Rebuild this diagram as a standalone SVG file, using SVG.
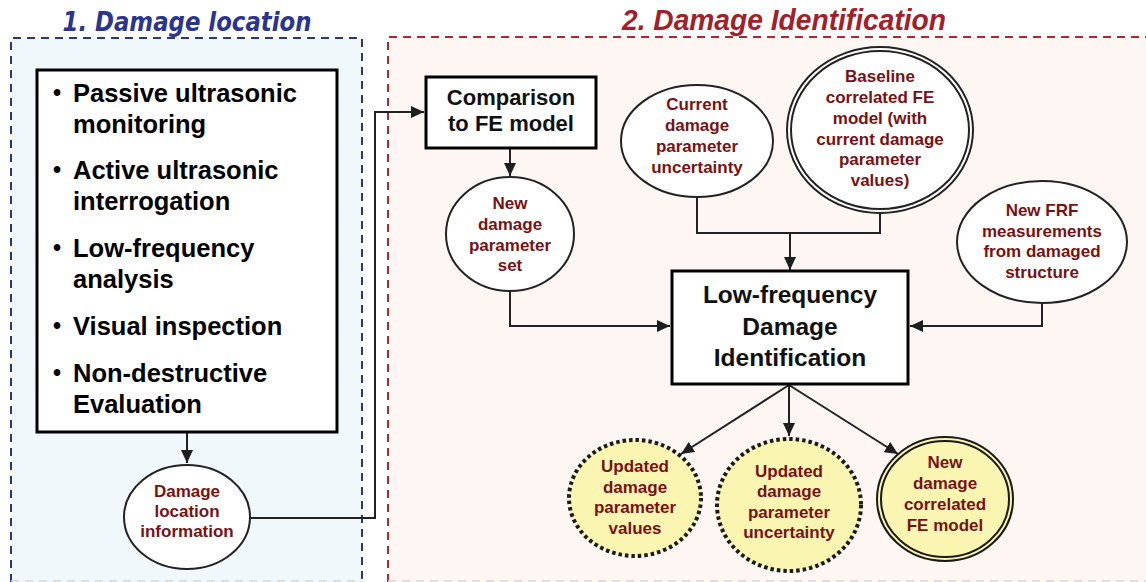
<svg xmlns="http://www.w3.org/2000/svg" width="1146" height="582" viewBox="0 0 1146 582">
<defs>
<marker id="ah" markerUnits="userSpaceOnUse" markerWidth="14" markerHeight="12" refX="13" refY="6" orient="auto">
<path d="M0,0 L13,6 L0,12 z" fill="#1e1e1e"/>
</marker>
<style>
.title1{font-family:"DejaVu Sans",Verdana,sans-serif;font-weight:bold;font-style:italic;font-size:26px;fill:#2b3590}
.title2{font-family:"Liberation Sans",Arial,sans-serif;font-weight:bold;font-style:italic;font-size:30px;fill:#a3202a}
.list{font-family:"Liberation Sans",Arial,sans-serif;font-weight:bold;font-size:25.5px;fill:#000}
.bul{font-family:"Liberation Sans",Arial,sans-serif;font-weight:bold;font-size:23px;fill:#000}
.box{fill:#fff;stroke:#000;stroke-width:3}
.btxt{font-family:"Liberation Sans",Arial,sans-serif;font-weight:bold;fill:#111;text-anchor:middle}
.ell{fill:#fff;stroke:#222;stroke-width:2}
.ely{fill:#fbf5b2;stroke:#1a1a1a;stroke-width:2}
.dot{fill:#fbf5b2;stroke:#1a1a1a;stroke-width:4;stroke-dasharray:3.5 3}
.etxt{font-family:"Liberation Sans",Arial,sans-serif;font-weight:bold;font-size:17px;fill:#7a1214;text-anchor:middle}
.con{fill:none;stroke:#222;stroke-width:2}
</style>
</defs>

<g id="panel-location">
<rect x="11" y="38" width="351" height="550" fill="#f0f8fb"/>
<path d="M11,582 V38 H362 V582" fill="none" stroke="#2b3590" stroke-width="2" stroke-dasharray="8 6"/>
<line x1="11" y1="581" x2="362" y2="581" stroke="#d6d6d6" stroke-width="1.5" stroke-dasharray="8 6"/>
<text class="title1" x="187" y="31" text-anchor="middle" textLength="249" lengthAdjust="spacingAndGlyphs">1. Damage location</text>
</g>

<g id="panel-identification">
<rect x="388" y="37" width="770" height="550" fill="#fdf6f3"/>
<path d="M388,582 V37 H1150" fill="none" stroke="#b0282e" stroke-width="2" stroke-dasharray="8 6"/>
<line x1="388" y1="581" x2="1146" y2="581" stroke="#d6d6d6" stroke-width="1.5" stroke-dasharray="8 6"/>
<text class="title2" x="784" y="30" text-anchor="middle" textLength="324" lengthAdjust="spacingAndGlyphs">2. Damage Identification</text>
</g>

<g id="connectors">
<path class="con" d="M187,432 V463" marker-end="url(#ah)"/>
<path class="con" d="M250,518 H375 V112 H424" marker-end="url(#ah)"/>
<path class="con" d="M510,148 V176" marker-end="url(#ah)"/>
<path class="con" d="M510,292 V326 H670" marker-end="url(#ah)"/>
<path class="con" d="M697,197 V233 H880 V213"/>
<path class="con" d="M790,233 V270" marker-end="url(#ah)"/>
<path class="con" d="M1042,303 V326 H910" marker-end="url(#ah)"/>
<path class="con" d="M789,385 L681,454" marker-end="url(#ah)"/>
<path class="con" d="M789,385 V436" marker-end="url(#ah)"/>
<path class="con" d="M789,385 L898,454" marker-end="url(#ah)"/>
</g>

<g id="methods-list">
<rect class="box" x="37" y="70" width="300" height="362"/>
<text class="bul" x="53" y="101">•</text>
<text class="list" x="73" y="102">Passive ultrasonic</text>
<text class="list" x="73" y="133">monitoring</text>
<text class="bul" x="53" y="178">•</text>
<text class="list" x="73" y="179">Active ultrasonic</text>
<text class="list" x="73" y="210">interrogation</text>
<text class="bul" x="53" y="256">•</text>
<text class="list" x="73" y="257">Low-frequency</text>
<text class="list" x="73" y="288">analysis</text>
<text class="bul" x="53" y="334">•</text>
<text class="list" x="73" y="335">Visual inspection</text>
<text class="bul" x="53" y="381">•</text>
<text class="list" x="73" y="382">Non-destructive</text>
<text class="list" x="73" y="413">Evaluation</text>
</g>

<g id="damage-location-info">
<ellipse class="ell" cx="187" cy="517" rx="63" ry="52"/>
<text class="etxt" x="187" y="497">Damage</text>
<text class="etxt" x="187" y="517">location</text>
<text class="etxt" x="187" y="537">information</text>
</g>

<g id="comparison">
<rect class="box" x="426" y="77" width="170" height="71"/>
<text class="btxt" x="511" y="105" font-size="22">Comparison</text>
<text class="btxt" x="511" y="131" font-size="22">to FE model</text>
</g>

<g id="new-damage-param-set">
<ellipse class="ell" cx="510" cy="234" rx="64" ry="57"/>
<text class="etxt" x="510" y="209">New</text>
<text class="etxt" x="510" y="230">damage</text>
<text class="etxt" x="510" y="251">parameter</text>
<text class="etxt" x="510" y="271">set</text>
</g>

<g id="current-uncertainty">
<ellipse class="ell" cx="697" cy="141" rx="76" ry="56"/>
<text class="etxt" x="697" y="110">Current</text>
<text class="etxt" x="697" y="131">damage</text>
<text class="etxt" x="697" y="152">parameter</text>
<text class="etxt" x="697" y="173">uncertainty</text>
</g>

<g id="baseline-fe-model">
<ellipse class="ell" cx="880" cy="130" rx="93" ry="83"/>
<ellipse fill="none" stroke="#222" stroke-width="2" cx="880" cy="130" rx="89" ry="79"/>
<text class="etxt" x="880" y="82">Baseline</text>
<text class="etxt" x="880" y="103">correlated FE</text>
<text class="etxt" x="880" y="124">model (with</text>
<text class="etxt" x="880" y="145">current damage</text>
<text class="etxt" x="880" y="165">parameter</text>
<text class="etxt" x="880" y="186">values)</text>
</g>

<g id="new-frf">
<ellipse class="ell" cx="1042" cy="242" rx="85" ry="61"/>
<text class="etxt" x="1042" y="216">New FRF</text>
<text class="etxt" x="1042" y="237">measurements</text>
<text class="etxt" x="1042" y="257">from damaged</text>
<text class="etxt" x="1042" y="278">structure</text>
</g>

<g id="lf-damage-identification">
<rect class="box" x="672" y="271" width="236" height="113"/>
<text class="btxt" x="790" y="303" font-size="24.5">Low-frequency</text>
<text class="btxt" x="790" y="335" font-size="24.5">Damage</text>
<text class="btxt" x="790" y="366" font-size="24.5">Identification</text>
</g>

<g id="updated-values">
<ellipse class="dot" cx="635" cy="498" rx="66" ry="58"/>
<text class="etxt" x="635" y="472">Updated</text>
<text class="etxt" x="635" y="493">damage</text>
<text class="etxt" x="635" y="513">parameter</text>
<text class="etxt" x="635" y="534">values</text>
</g>

<g id="updated-uncertainty">
<ellipse class="dot" cx="789" cy="505" rx="72" ry="66"/>
<text class="etxt" x="789" y="477">Updated</text>
<text class="etxt" x="789" y="497">damage</text>
<text class="etxt" x="789" y="518">parameter</text>
<text class="etxt" x="789" y="538">uncertainty</text>
</g>

<g id="new-correlated-fe-model">
<ellipse class="ely" cx="945" cy="499" rx="68" ry="62"/>
<ellipse fill="none" stroke="#1a1a1a" stroke-width="2" cx="945" cy="499" rx="64" ry="58"/>
<text class="etxt" x="945" y="468">New</text>
<text class="etxt" x="945" y="489">damage</text>
<text class="etxt" x="945" y="510">correlated</text>
<text class="etxt" x="945" y="531">FE model</text>
</g>
</svg>
